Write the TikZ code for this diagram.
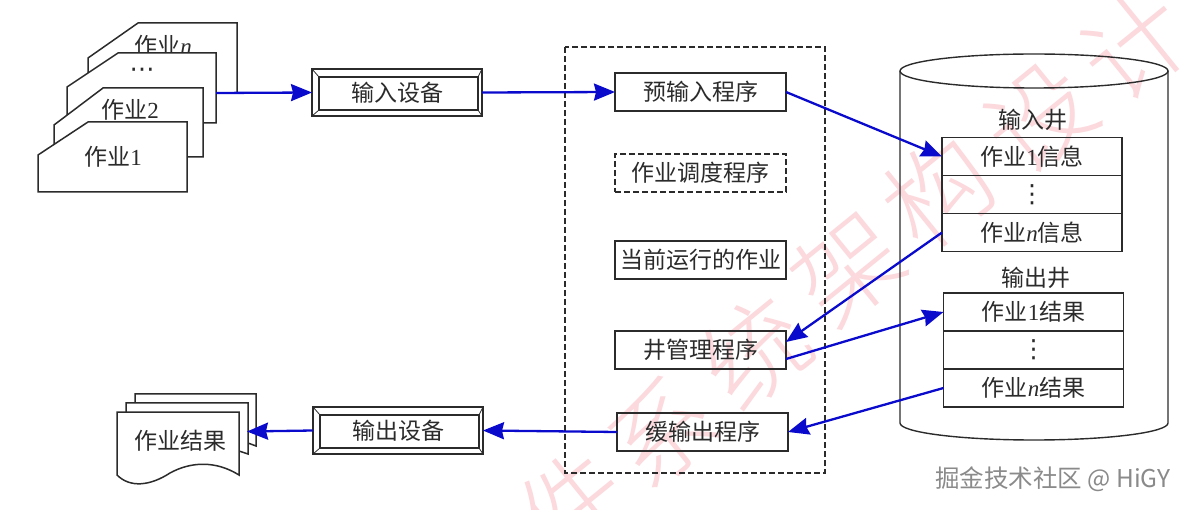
\documentclass[tikz,border=0pt]{standalone}
\usepackage{fontspec}
\setmainfont{Noto Sans CJK SC}
\newfontfamily\latinfont{Liberation Serif}
\newfontfamily\dotfont{DejaVu Sans}
\newfontfamily\markfont{Noto Sans CJK SC Light}
\usetikzlibrary{arrows.meta, positioning}
\definecolor{FlowBlue}{HTML}{0A0ACD}
\definecolor{InkGray}{HTML}{2B2B2B}
\definecolor{MarkPink}{HTML}{FBD9DD}
\definecolor{CreditGray}{HTML}{8A8A8A}
\newcommand{\jobn}{{\latinfont\itshape n}}
\newcommand{\jobone}{{\latinfont 1}}
\tikzset{
  every node/.style={font=\fontsize{23}{26}\selectfont, text=InkGray, outer sep=0pt, inner sep=0pt},
  progbox/.style={draw=InkGray, line width=1.5pt, minimum width=171pt, minimum height=38pt},
  cellbox/.style={draw=InkGray, line width=1.5pt, minimum width=180pt, minimum height=38pt},
  dotlabel/.style={font=\dotfont\fontsize{25}{25}\selectfont},
  devbox/.style={draw=InkGray, line width=1.5pt, minimum width=170pt, minimum height=47pt,
    path picture={
      \draw[line width=1.5pt, InkGray] ([xshift=7pt,yshift=-8pt]path picture bounding box.north west) rectangle ([xshift=-4pt,yshift=6pt]path picture bounding box.south east);
      \draw[line width=.8pt, InkGray] (path picture bounding box.north west) -- ++(7pt,-8pt);
      \draw[line width=.8pt, InkGray] (path picture bounding box.north east) -- ++(-4pt,-8pt);
      \draw[line width=.8pt, InkGray] (path picture bounding box.south west) -- ++(7pt,6pt);
      \draw[line width=.8pt, InkGray] (path picture bounding box.south east) -- ++(-4pt,6pt);
    }},
  flow/.style={-{Stealth[length=21pt, width=17pt, inset=2pt]}, line width=2.3pt, FlowBlue},
  sheet/.style={draw=InkGray, line width=1.5pt, fill=white},
}
\begin{document}
\begin{tikzpicture}[x=1pt, y=-1pt]
  \useasboundingbox (0,0) rectangle (1194,510);
  % watermark behind everything
  \begin{scope}
    \clip (0,0) rectangle (1194,510);
    \foreach \c/\px/\py in {件/572/505, 系/662/432, 统/755/352, 架/848/268, 构/938/192, 设/1040/118, 计/1135/45}
      \node[rotate=39, font=\markfont\fontsize{104}{104}\selectfont, text=MarkPink] at (\px,\py) {\c};
  \end{scope}

  % job cards, back to front
  \draw[sheet] (88,58) -- (138,23) -- (237,23) -- (237,93) -- (88,93) -- cycle;
  \node (jobn) at (163,46) {作业\jobn};
  \draw[sheet] (67,87) -- (118,53) -- (216,53) -- (216,123) -- (67,123) -- cycle;
  \node[dotlabel] (jobdots) at (142,73) {⋯};
  \coordinate (jobout) at (216,93);
  \draw[sheet] (54,125) -- (103,88) -- (203,88) -- (203,157) -- (54,157) -- cycle;
  \node (jobtwo) at (130,110) {作业{\latinfont 2}};
  \draw[sheet] (38,155) -- (88,122) -- (187,122) -- (187,192) -- (38,192) -- cycle;
  \node (jobfirst) at (113,157) {作业\jobone};

  \node[devbox] (indev) at (397,92.5) {输入设备};
  \node[devbox] (outdev) at (398,430.5) {输出设备};

  % spooling programs
  \draw[InkGray, line width=1.5pt, dash pattern=on 6pt off 3pt] (565,47) rectangle (825,473);
  \node[progbox] (pre) at (700.5,92) {预输入程序};
  \node[progbox, dash pattern=on 6pt off 3pt, below=43pt of pre] (sched) {作业调度程序};
  \node[progbox, below=49pt of sched] (cur) {当前运行的作业};
  \node[progbox, below=52pt of cur] (mgr) {井管理程序};
  \node[progbox, below=44pt of mgr, xshift=2pt] (post) {缓输出程序};

  % disk
  \draw[InkGray, line width=1.4pt] (1034,71) ellipse [x radius=134pt, y radius=17pt];
  \draw[InkGray, line width=1.4pt] (900,71) -- (900,423) arc[start angle=180, end angle=360, x radius=134pt, y radius=17pt] -- (1168,71);

  \node (inwell) at (1033,120) {输入井};
  \node[cellbox] (inone) at (1032,156.5) {作业\jobone 信息};
  \node[cellbox, below=0pt of inone] (indots) {};
  \node[dotlabel] (indotsmark) at (indots) {⋮};
  \node[cellbox, below=0pt of indots] (inn) {作业\jobn 信息};
  \node (outwell) at (1036,278) {输出井};
  \node[cellbox] (outone) at (1033.5,312) {作业\jobone 结果};
  \node[cellbox, below=0pt of outone] (outdots) {};
  \node[dotlabel] (outdotsmark) at (outdots) {⋮};
  \node[cellbox, below=0pt of outdots] (outn) {作业\jobn 结果};

  % printed results
  \draw[sheet] (135,403) -- (135,394) -- (256,394) -- (256,446) -- (240,440);
  \draw[sheet] (126,412) -- (126,403) -- (248,403) -- (248,454) -- (236,450);
  \draw[sheet] (117,412) -- (239,412) -- (239,475) .. controls (215,460) and (190,462) .. (170,473) .. controls (150,486) and (130,488) .. (117,475) -- cycle;
  \node (result) at (180,441) {作业结果};
  \coordinate (resin) at (247,431.5);

  \draw[flow] (jobout) -- (indev.west);
  \draw[flow] (indev.east) -- (pre.west);
  \draw[flow] (pre.east) -- (inone.west);
  \draw[flow] (inn.west) -- (mgr.east |- 0,342);
  \draw[flow] (mgr.east |- 0,359) -- (outone.west);
  \draw[flow] (outn.west) -- (post.east);
  \draw[flow] (post.west) -- (outdev.east);
  \draw[flow] (outdev.west) -- (resin);

  \node[font=\fontsize{24.5}{26}\selectfont, text=CreditGray, anchor=west] (credit) at (935,479) {掘金技术社区 @ HiGY};
\end{tikzpicture}
\end{document}
